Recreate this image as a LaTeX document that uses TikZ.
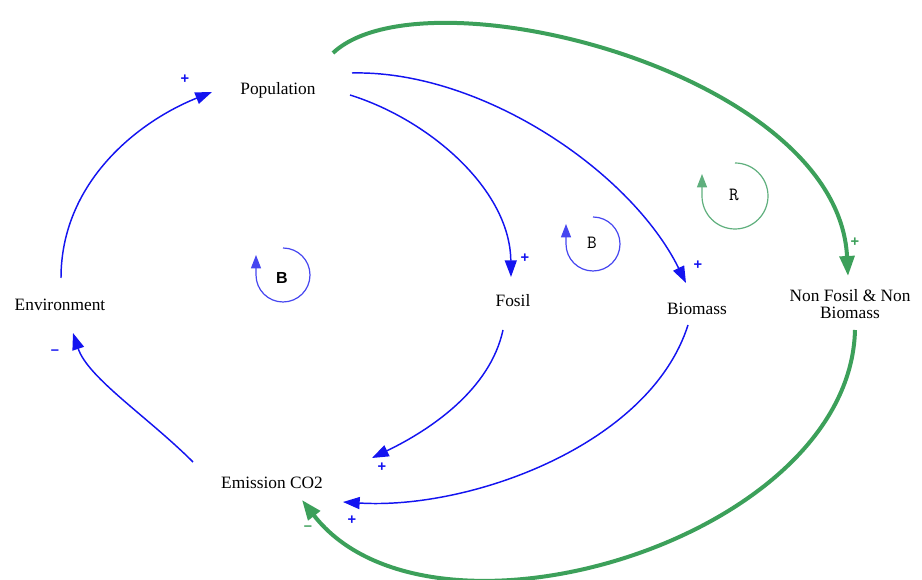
\documentclass[tikz,border=0pt]{standalone}
\usepackage{fontspec}
\setmainfont{Liberation Serif}
\newfontfamily\lsans{Liberation Sans}
\usetikzlibrary{arrows.meta}
\definecolor{cblue}{RGB}{20,20,240}
\definecolor{cgreen}{RGB}{60,160,90}
\definecolor{cgreenl}{RGB}{95,175,125}
\definecolor{cbluel}{RGB}{70,70,240}
\tikzset{
  var/.style={font=\fontsize{13}{15}\selectfont, inner sep=1pt, align=center},
  blink/.style={draw=cblue, line width=1.1pt, -{Triangle[length=12.5pt,width=9pt]}},
  glink/.style={draw=cgreen, line width=3pt, -{Triangle[length=15pt,width=11pt]}},
  bsign/.style={text=cblue, font=\lsans\bfseries\fontsize{11}{11}\selectfont, inner sep=0pt},
  gsign/.style={text=cgreen, font=\lsans\bfseries\fontsize{11}{11}\selectfont, inner sep=0pt},
  bloop/.style={draw=cbluel, line width=0.9pt, -{Triangle[length=10pt,width=7.5pt]}},
  gloop/.style={draw=cgreenl, line width=0.9pt, -{Triangle[length=10pt,width=7.5pt]}},
  looplet/.style={font=\ttfamily\fontsize{14}{14}\selectfont, inner sep=0pt},
}
\begin{document}
\begin{tikzpicture}[x=0.75pt,y=-0.75pt]
\useasboundingbox (0,0) rectangle (922,580);
% variables
\node[var] (pop) at (278,90) {Population};
\node[var] (env) at (60,305) {Environment};
\node[var] (fosil) at (513,301) {Fosil};
\node[var] (bio) at (697,309) {Biomass};
\node[var] (nonfos) at (850,304) {Non Fosil \& Non\\[-2pt]Biomass};
\node[var] (emis) at (272,483) {Emission CO2};
% blue links
\draw[blink] ([shift={(1,-27)}]env.center) .. controls +(0,-95) and +(-75,30) .. ([shift={(-66,2)}]pop.center);
\draw[blink] ([shift={(-79,-21)}]emis.center) .. controls +(-45,-45) and +(15,45) .. ([shift={(13,28)}]env.center);
\draw[blink] ([shift={(72,5)}]pop.center) .. controls +(80,25) and +(-1,-87) .. ([shift={(-2,-24)}]fosil.center);
\draw[blink] ([shift={(74,-17)}]pop.center) .. controls +(128,-3) and +(-56,-113) .. ([shift={(-11,-26)}]bio.center);
\draw[blink] ([shift={(-10,29)}]fosil.center) .. controls +(-13,60) and +(58,-28) .. ([shift={(100,-25)}]emis.center);
\draw[blink] ([shift={(-9,16)}]bio.center) .. controls +(-38,120) and +(127,8) .. ([shift={(71,19)}]emis.center);
% green links
\draw[glink] ([shift={(55,-37)}]pop.center) .. controls +(90,-85) and +(-10,-205) .. ([shift={(-2,-28)}]nonfos.center);
\draw[glink] ([shift={(5,26)}]nonfos.center) .. controls +(-5,210) and +(128,165) .. ([shift={(30,17)}]emis.center);
% polarity signs
\node[bsign] (s1) at (185,79) {+};
\node[bsign] (s2) at (55,352) {\textendash};
\node[bsign] (s3) at (525,258) {+};
\node[bsign] (s4) at (698,265) {+};
\node[gsign] (s5) at (855,242) {+};
\node[bsign] (s6) at (382,467) {+};
\node[bsign] (s7) at (352,520) {+};
\node[gsign] (s8) at (308,528) {\textendash};
% loop symbols
\draw[bloop] (283,248) arc[start angle=-90, end angle=180, radius=27] -- ++(0,-20);
\node[font=\lsans\bfseries\fontsize{12}{12}\selectfont, inner sep=0pt] (l1) at (282,278) {B};
\draw[bloop] (593,217) arc[start angle=-90, end angle=180, radius=27] -- ++(0,-20);
\node[looplet] (l2) at (592,243) {B};
\draw[gloop] (735,163) arc[start angle=-90, end angle=180, radius=33] -- ++(0,-22);
\node[looplet] (l3) at (734,195) {R};
\end{tikzpicture}
\end{document}
